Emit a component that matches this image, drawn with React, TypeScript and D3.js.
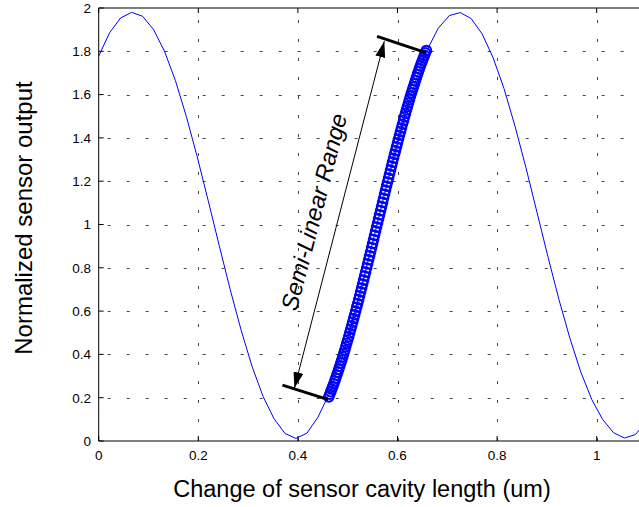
import React, { useEffect, useRef } from "react";
import * as d3 from "d3";

// Sine-like sensor response
const curveX = [
  0, 0.022, 0.044, 0.066, 0.088, 0.11, 0.132, 0.154, 0.176, 0.198, 0.22, 0.242, 0.264,
  0.286, 0.308, 0.33, 0.352, 0.374, 0.396, 0.418, 0.44, 0.462, 0.484, 0.506, 0.528,
  0.55, 0.572, 0.594, 0.616, 0.638, 0.66, 0.682, 0.704, 0.726, 0.748, 0.77, 0.792,
  0.814, 0.836, 0.858, 0.88, 0.902, 0.924, 0.946, 0.968, 0.99, 1.012, 1.034, 1.056,
  1.078, 1.1,
];
const curveY = [
  1.778, 1.886, 1.954, 1.98, 1.962, 1.901, 1.801, 1.665, 1.499, 1.311, 1.109, 0.903,
  0.7, 0.512, 0.344, 0.206, 0.103, 0.035, 0.012, 0.036, 0.109, 0.214, 0.354, 0.523,
  0.713, 0.917, 1.123, 1.324, 1.511, 1.674, 1.809, 1.907, 1.965, 1.979, 1.951, 1.88,
  1.77, 1.627, 1.454, 1.262, 1.057, 0.852, 0.655, 0.476, 0.319, 0.192, 0.099, 0.038,
  0.014, 0.03, 0.092,
];

// Circle markers in the semi-linear range
const markerX = [
  0.462, 0.464, 0.466, 0.468, 0.47, 0.472, 0.474, 0.476, 0.478, 0.48, 0.482, 0.484,
  0.486, 0.488, 0.49, 0.492, 0.494, 0.496, 0.498, 0.5, 0.502, 0.504, 0.506, 0.508,
  0.51, 0.512, 0.514, 0.516, 0.518, 0.52, 0.522, 0.524, 0.526, 0.528, 0.53, 0.532,
  0.534, 0.536, 0.538, 0.54, 0.542, 0.544, 0.546, 0.548, 0.55, 0.552, 0.554, 0.556,
  0.558, 0.56, 0.562, 0.564, 0.566, 0.568, 0.57, 0.572, 0.574, 0.576, 0.578, 0.58,
  0.582, 0.584, 0.586, 0.588, 0.59, 0.592, 0.594, 0.596, 0.598, 0.6, 0.602, 0.604,
  0.606, 0.608, 0.61, 0.612, 0.614, 0.616, 0.618, 0.62, 0.622, 0.624, 0.626, 0.628,
  0.63, 0.632, 0.634, 0.636, 0.638, 0.64, 0.642, 0.644, 0.646, 0.648, 0.65, 0.652,
  0.654, 0.656, 0.658,
];
const markerY = [
  0.204, 0.216, 0.228, 0.24, 0.252, 0.264, 0.277, 0.29, 0.304, 0.317, 0.331, 0.345,
  0.36, 0.374, 0.389, 0.404, 0.419, 0.435, 0.451, 0.466, 0.482, 0.499, 0.516, 0.532,
  0.549, 0.566, 0.583, 0.6, 0.618, 0.635, 0.653, 0.671, 0.689, 0.707, 0.725, 0.743,
  0.762, 0.78, 0.799, 0.818, 0.837, 0.855, 0.874, 0.893, 0.912, 0.931, 0.95, 0.969,
  0.988, 1.007, 1.026, 1.045, 1.064, 1.083, 1.102, 1.121, 1.14, 1.158, 1.177, 1.196,
  1.214, 1.233, 1.251, 1.27, 1.288, 1.306, 1.324, 1.341, 1.359, 1.377, 1.395, 1.412,
  1.429, 1.446, 1.463, 1.48, 1.497, 1.513, 1.529, 1.545, 1.561, 1.577, 1.592, 1.607,
  1.622, 1.636, 1.65, 1.665, 1.679, 1.693, 1.706, 1.72, 1.733, 1.745, 1.757, 1.769,
  1.781, 1.793, 1.804,
];

// Annotation lines (data coords)
const lowerBar: [number, number][] = [[0.369, 0.258], [0.461, 0.191]];
const upperBar: [number, number][] = [[0.559, 1.869], [0.657, 1.794]];
const rangeArrow: [number, number][] = [[0.393, 0.244], [0.5735, 1.846]];
const rangeLabel = "Semi-Linear Range";

const xTicks = [0, 0.2, 0.4, 0.6, 0.8, 1];
const yTicks = [0, 0.2, 0.4, 0.6, 0.8, 1, 1.2, 1.4, 1.6, 1.8, 2];
const xLabel = "Change of sensor cavity length (um)";
const yLabel = "Normalized sensor output";

const App: React.FC = () => {
  const svgRef = useRef<SVGSVGElement | null>(null);

  useEffect(() => {
    if (!svgRef.current) return;
    const width = 639;
    const height = 507;
    const left = 98.7;
    const top = 8;
    const bottom = 441;
    const font = "'Liberation Sans', Arial, sans-serif";

    const x = d3.scaleLinear().domain([0, 1.1]).range([left, left + 1.1 * 498]);
    const y = d3.scaleLinear().domain([0, 2]).range([bottom, top]);

    const svg = d3
      .select(svgRef.current)
      .attr("width", width)
      .attr("height", height)
      .attr("viewBox", [0, 0, width, height]);

    svg.append("rect").attr("width", width).attr("height", height).attr("fill", "#fff");

    const right = x(1.1);

    // grid
    const grid = svg.append("g").attr("stroke", "#444").attr("stroke-width", 1)
      .attr("stroke-dasharray", "3,16");
    grid.selectAll("line.v")
      .data(xTicks.filter((d) => d > 0))
      .join("line")
      .attr("x1", (d) => Math.round(x(d)) + 0.5)
      .attr("x2", (d) => Math.round(x(d)) + 0.5)
      .attr("y1", bottom)
      .attr("y2", top);
    grid.selectAll("line.h")
      .data(yTicks.filter((d) => d > 0 && d < 2))
      .join("line")
      .attr("class", "h")
      .attr("x1", left + 9)
      .attr("x2", right)
      .attr("y1", (d) => Math.round(y(d)) + 0.5)
      .attr("y2", (d) => Math.round(y(d)) + 0.5);

    // box + inward ticks
    const axes = svg.append("g").attr("stroke", "#000").attr("stroke-width", 1).attr("fill", "none");
    axes.append("path").attr("d", `M${right},${top}H${left}V${bottom}H${right}`);
    axes.selectAll("line.xt")
      .data(xTicks)
      .join("line")
      .attr("x1", (d) => x(d)).attr("x2", (d) => x(d))
      .attr("y1", bottom).attr("y2", bottom - 5);
    axes.selectAll("line.xtt")
      .data(xTicks)
      .enter()
      .append("line")
      .attr("x1", (d) => x(d)).attr("x2", (d) => x(d))
      .attr("y1", top).attr("y2", top + 5);
    axes.selectAll("line.yt")
      .data(yTicks)
      .enter()
      .append("line")
      .attr("x1", left).attr("x2", left + 5)
      .attr("y1", (d) => y(d)).attr("y2", (d) => y(d));

    // tick labels
    const fmt = (d: number) => (d === 0 || d === 1 || d === 2 ? String(d) : d.toFixed(1));
    svg.append("g")
      .attr("font-family", font).attr("font-size", 13.5).attr("text-anchor", "middle")
      .selectAll("text")
      .data(xTicks)
      .join("text")
      .attr("x", (d) => x(d))
      .attr("y", 460)
      .text(fmt);
    svg.append("g")
      .attr("font-family", font).attr("font-size", 13.5).attr("text-anchor", "end")
      .selectAll("text")
      .data(yTicks)
      .join("text")
      .attr("x", 91)
      .attr("y", (d) => y(d))
      .attr("dy", "0.36em")
      .text(fmt);

    // curve
    const pts = curveX.map((d, i) => [d, curveY[i]] as [number, number]);
    svg.append("path")
      .datum(pts)
      .attr("fill", "none")
      .attr("stroke", "#0000ff")
      .attr("stroke-width", 1)
      .attr("d", d3.line().x((d) => x(d[0])).y((d) => y(d[1])));

    // markers
    svg.append("g")
      .attr("fill", "none")
      .attr("stroke", "#0000ff")
      .attr("stroke-width", 2)
      .selectAll("circle")
      .data(markerX.map((d, i) => [d, markerY[i]]))
      .join("circle")
      .attr("cx", (d) => x(d[0]))
      .attr("cy", (d) => y(d[1]))
      .attr("r", 4.8);

    // annotation bars
    [lowerBar, upperBar].forEach((bar) => {
      svg.append("line")
        .attr("x1", x(bar[0][0])).attr("y1", y(bar[0][1]))
        .attr("x2", x(bar[1][0])).attr("y2", y(bar[1][1]))
        .attr("stroke", "#000").attr("stroke-width", 3);
    });

    // double arrow
    const defs = svg.append("defs");
    defs.append("marker")
      .attr("id", "ah")
      .attr("viewBox", "0 0 16 10")
      .attr("refX", 16).attr("refY", 5)
      .attr("markerWidth", 16).attr("markerHeight", 10)
      .attr("markerUnits", "userSpaceOnUse")
      .attr("orient", "auto-start-reverse")
      .append("path").attr("d", "M0,0L16,5L0,10Z").attr("fill", "#000");
    svg.append("line")
      .attr("x1", x(rangeArrow[0][0])).attr("y1", y(rangeArrow[0][1]))
      .attr("x2", x(rangeArrow[1][0])).attr("y2", y(rangeArrow[1][1]))
      .attr("stroke", "#000").attr("stroke-width", 1)
      .attr("marker-start", "url(#ah)").attr("marker-end", "url(#ah)");

    const ax0 = x(rangeArrow[0][0]), ay0 = y(rangeArrow[0][1]);
    const ax1 = x(rangeArrow[1][0]), ay1 = y(rangeArrow[1][1]);
    const ang = (Math.atan2(ay1 - ay0, ax1 - ax0) * 180) / Math.PI;
    svg.append("text")
      .attr("transform", `translate(322,214) rotate(${ang})`)
      .attr("font-family", font).attr("font-size", 23.5).attr("font-style", "italic")
      .attr("text-anchor", "middle")
      .text(rangeLabel);

    // axis labels
    svg.append("text")
      .attr("x", 362).attr("y", 497)
      .attr("font-family", font).attr("font-size", 23.5).attr("text-anchor", "middle")
      .text(xLabel);
    svg.append("text")
      .attr("transform", "translate(32,218) rotate(-90)")
      .attr("font-family", font).attr("font-size", 24).attr("text-anchor", "middle")
      .text(yLabel);

    return () => {
      svg.selectAll("*").remove();
    };
  }, []);

  return (
    <div style={{ position: "fixed", left: 0, top: 0 }}>
      <svg ref={svgRef} style={{ display: "block" }}></svg>
    </div>
  );
};

export default App;
